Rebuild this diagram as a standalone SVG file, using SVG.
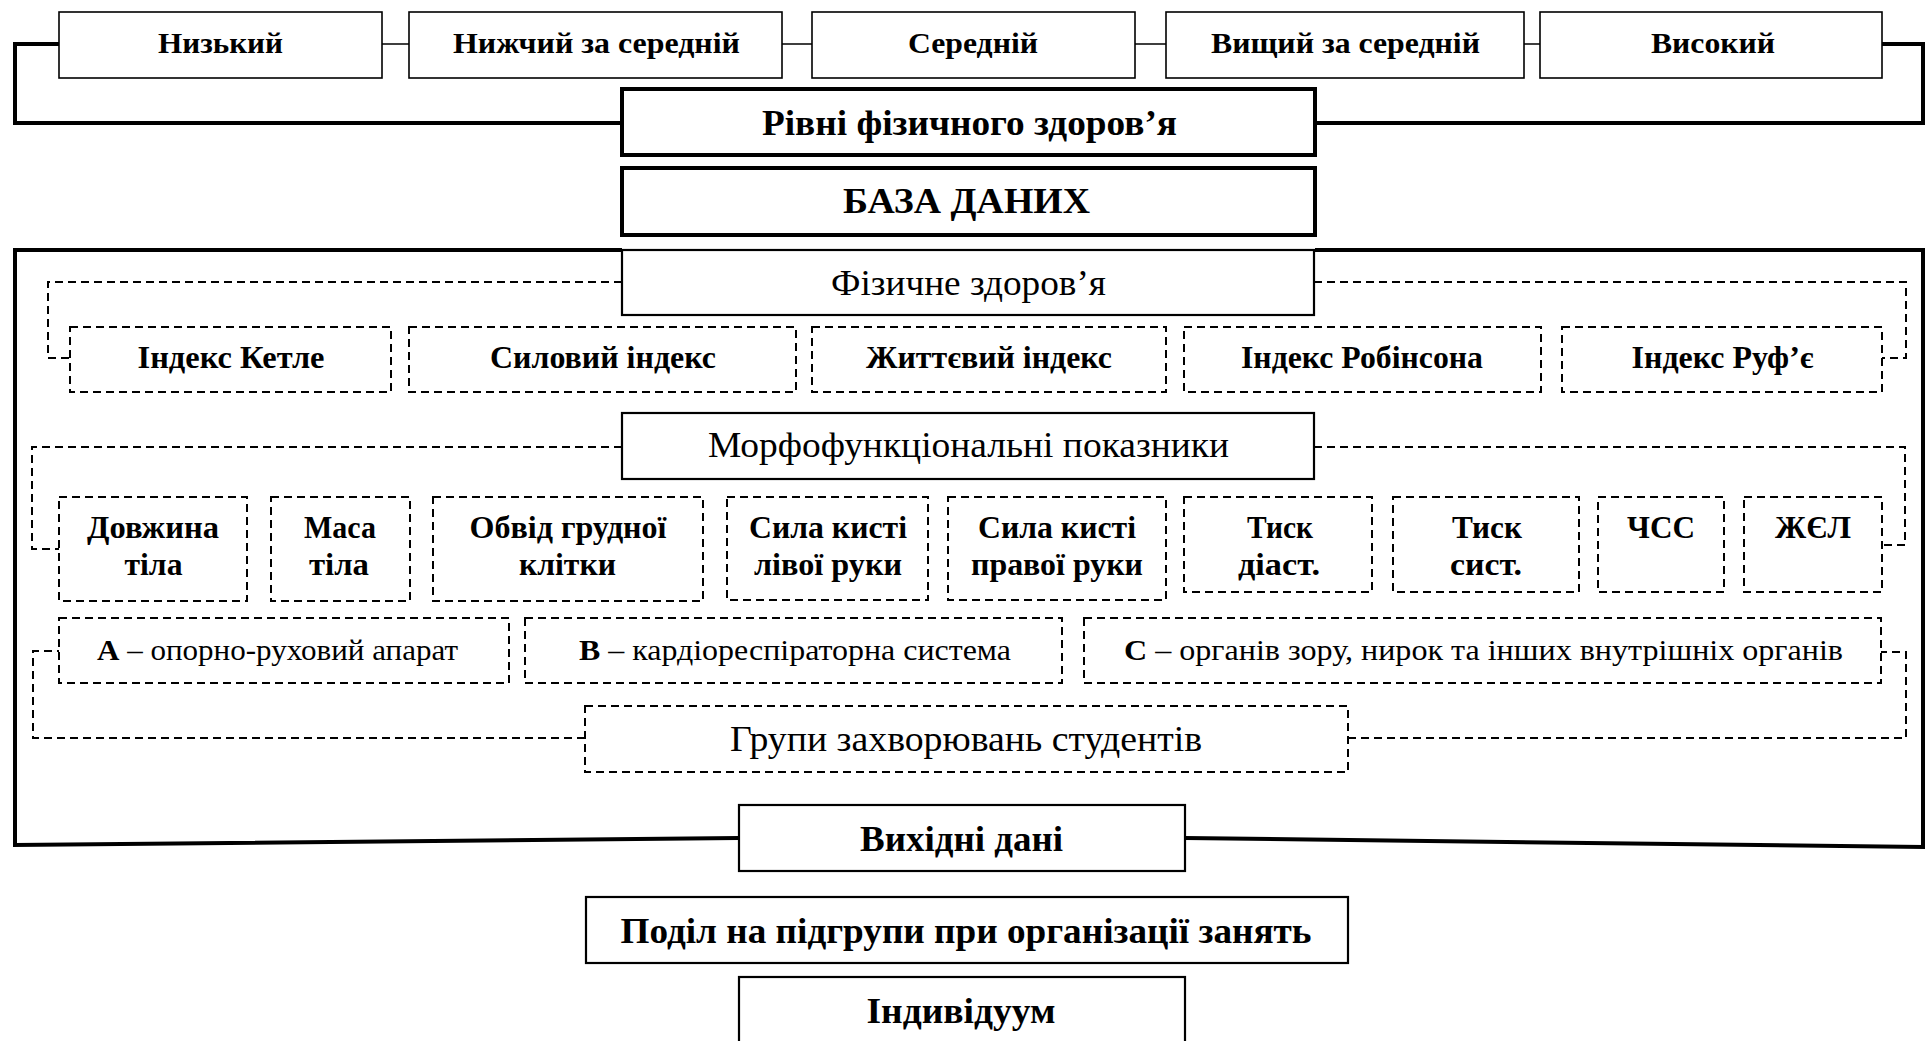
<svg xmlns="http://www.w3.org/2000/svg" width="1930" height="1041" viewBox="0 0 1930 1041">
<style>
text{font-family:"Liberation Serif","Times New Roman",serif;text-anchor:middle;fill:#000}
.b{font-weight:bold}
.r{font-weight:normal}
.s30{font-size:30px}.s31{font-size:31px}.s32{font-size:32px}.s35{font-size:35px}.s36{font-size:36px}
.box{fill:#fff;stroke:#000;stroke-width:1.6}
.box2{fill:#fff;stroke:#000;stroke-width:2.2}
.thick{fill:#fff;stroke:#000;stroke-width:4}
.dbox{fill:#fff;stroke:#000;stroke-width:2;stroke-dasharray:8 5}
.ln{fill:none;stroke:#000;stroke-width:1.6}
.tl{fill:none;stroke:#000;stroke-width:4}
.dl{fill:none;stroke:#000;stroke-width:2;stroke-dasharray:8 5}
</style>
<rect width="1930" height="1041" fill="#fff"/>
<g id="connectors">
<path class="ln" d="M382 44H409M782 44H812M1135 44H1166M1524 44H1540"/>
<path class="tl" d="M59 44H15V123H622M1882 44H1923V123H1315"/>
<path class="tl" d="M622 250H15V845L739 838M1315 250H1923V847L1185 838"/>
<path class="dl" d="M622 282H48V358H70M1314 282H1906V358H1882"/>
<path class="dl" d="M622 447H32V549H59M1314 447H1905V545H1882"/>
<path class="dl" d="M585 738H33V651H59M1348 738H1906V652H1881"/>
</g>
<g id="n-low"><rect class="box" x="59" y="12" width="323" height="66"/><text class="b s30" x="220.5" y="53" textLength="125" lengthAdjust="spacingAndGlyphs">Низький</text></g>
<g id="n-below"><rect class="box" x="409" y="12" width="373" height="66"/><text class="b s30" x="596.5" y="53" textLength="287" lengthAdjust="spacingAndGlyphs">Нижчий за середній</text></g>
<g id="n-mid"><rect class="box" x="812" y="12" width="323" height="66"/><text class="b s30" x="973" y="53" textLength="130" lengthAdjust="spacingAndGlyphs">Середній</text></g>
<g id="n-above"><rect class="box" x="1166" y="12" width="358" height="66"/><text class="b s30" x="1345.5" y="53" textLength="269" lengthAdjust="spacingAndGlyphs">Вищий за середній</text></g>
<g id="n-high"><rect class="box" x="1540" y="12" width="342" height="66"/><text class="b s30" x="1713" y="53" textLength="124" lengthAdjust="spacingAndGlyphs">Високий</text></g>
<g id="n-levels"><rect class="thick" x="622" y="89" width="693" height="66"/><text class="b s36" x="969.5" y="135" textLength="415" lengthAdjust="spacingAndGlyphs">Рівні фізичного здоров’я</text></g>
<g id="n-db"><rect class="thick" x="622" y="168" width="693" height="67"/><text class="b s36" x="966.5" y="213" textLength="247" lengthAdjust="spacingAndGlyphs">БАЗА ДАНИХ</text></g>
<g id="n-phys"><rect class="box2" x="622" y="250" width="692" height="65"/><text class="r s35" x="968.5" y="295" textLength="275" lengthAdjust="spacingAndGlyphs">Фізичне здоров’я</text></g>
<g id="n-ketle"><rect class="dbox" x="70" y="327" width="321" height="65"/><text class="b s32" x="231" y="368" textLength="187" lengthAdjust="spacingAndGlyphs">Індекс Кетле</text></g>
<g id="n-sil"><rect class="dbox" x="409" y="327" width="387" height="65"/><text class="b s32" x="603" y="368" textLength="226" lengthAdjust="spacingAndGlyphs">Силовий індекс</text></g>
<g id="n-zhit"><rect class="dbox" x="812" y="327" width="354" height="65"/><text class="b s32" x="989" y="368" textLength="246" lengthAdjust="spacingAndGlyphs">Життєвий індекс</text></g>
<g id="n-rob"><rect class="dbox" x="1184" y="327" width="357" height="65"/><text class="b s32" x="1362" y="368" textLength="242" lengthAdjust="spacingAndGlyphs">Індекс Робінсона</text></g>
<g id="n-ruf"><rect class="dbox" x="1562" y="327" width="320" height="65"/><text class="b s32" x="1722.6" y="368" textLength="182" lengthAdjust="spacingAndGlyphs">Індекс Руф’є</text></g>
<g id="n-morph"><rect class="box2" x="622" y="413" width="692" height="66"/><text class="r s35" x="968.5" y="457" textLength="521" lengthAdjust="spacingAndGlyphs">Морфофункціональні показники</text></g>
<g id="n-len"><rect class="dbox" x="59" y="497" width="188" height="104"/><text class="b s31" x="153" y="538" textLength="132" lengthAdjust="spacingAndGlyphs">Довжина</text><text class="b s31" x="153.5" y="575" textLength="58" lengthAdjust="spacingAndGlyphs">тіла</text></g>
<g id="n-mass"><rect class="dbox" x="271" y="497" width="139" height="104"/><text class="b s31" x="340" y="538" textLength="72" lengthAdjust="spacingAndGlyphs">Маса</text><text class="b s31" x="339" y="575" textLength="60" lengthAdjust="spacingAndGlyphs">тіла</text></g>
<g id="n-chest"><rect class="dbox" x="433" y="497" width="270" height="104"/><text class="b s31" x="568" y="538" textLength="197" lengthAdjust="spacingAndGlyphs">Обвід грудної</text><text class="b s31" x="567.5" y="575" textLength="97" lengthAdjust="spacingAndGlyphs">клітки</text></g>
<g id="n-lhand"><rect class="dbox" x="727" y="497" width="201" height="103"/><text class="b s31" x="828" y="538" textLength="158" lengthAdjust="spacingAndGlyphs">Сила кисті</text><text class="b s31" x="828" y="575" textLength="148" lengthAdjust="spacingAndGlyphs">лівої руки</text></g>
<g id="n-rhand"><rect class="dbox" x="948" y="497" width="218" height="103"/><text class="b s31" x="1057" y="538" textLength="158" lengthAdjust="spacingAndGlyphs">Сила кисті</text><text class="b s31" x="1057" y="575" textLength="172" lengthAdjust="spacingAndGlyphs">правої руки</text></g>
<g id="n-dia"><rect class="dbox" x="1184" y="497" width="188" height="95"/><text class="b s31" x="1280" y="538" textLength="66" lengthAdjust="spacingAndGlyphs">Тиск</text><text class="b s31" x="1279" y="575" textLength="82" lengthAdjust="spacingAndGlyphs">діаст.</text></g>
<g id="n-sys"><rect class="dbox" x="1393" y="497" width="186" height="95"/><text class="b s31" x="1487" y="538" textLength="70" lengthAdjust="spacingAndGlyphs">Тиск</text><text class="b s31" x="1486" y="575" textLength="72" lengthAdjust="spacingAndGlyphs">сист.</text></g>
<g id="n-hr"><rect class="dbox" x="1598" y="497" width="126" height="95"/><text class="b s31" x="1661" y="538" textLength="68" lengthAdjust="spacingAndGlyphs">ЧСС</text></g>
<g id="n-vc"><rect class="dbox" x="1744" y="497" width="138" height="95"/><text class="b s31" x="1813" y="538" textLength="76" lengthAdjust="spacingAndGlyphs">ЖЄЛ</text></g>
<g id="n-a"><rect class="dbox" x="59" y="618" width="450" height="65"/><text class="r s30" x="277.5" y="660" textLength="361" lengthAdjust="spacingAndGlyphs"><tspan class="b">A</tspan> – опорно-руховий апарат</text></g>
<g id="n-b"><rect class="dbox" x="525" y="618" width="537" height="65"/><text class="r s30" x="795" y="660" textLength="432" lengthAdjust="spacingAndGlyphs"><tspan class="b">B</tspan> – кардіореспіраторна система</text></g>
<g id="n-c"><rect class="dbox" x="1084" y="618" width="797" height="65"/><text class="r s30" x="1483.5" y="660" textLength="719" lengthAdjust="spacingAndGlyphs"><tspan class="b">C</tspan> – органів зору, нирок та інших внутрішніх органів</text></g>
<g id="n-groups"><rect class="dbox" x="585" y="706" width="763" height="66"/><text class="r s35" x="966" y="751" textLength="472" lengthAdjust="spacingAndGlyphs">Групи захворювань студентів</text></g>
<g id="n-out"><rect class="box2" x="739" y="805" width="446" height="66"/><text class="b s36" x="961.5" y="851" textLength="203" lengthAdjust="spacingAndGlyphs">Вихідні дані</text></g>
<g id="n-split"><rect class="box2" x="586" y="897" width="762" height="66"/><text class="b s36" x="966" y="943" textLength="691" lengthAdjust="spacingAndGlyphs">Поділ на підгрупи при організації занять</text></g>
<g id="n-ind"><rect class="box2" x="739" y="977" width="446" height="70"/><text class="b s36" x="961" y="1023" textLength="189" lengthAdjust="spacingAndGlyphs">Індивідуум</text></g>
</svg>
